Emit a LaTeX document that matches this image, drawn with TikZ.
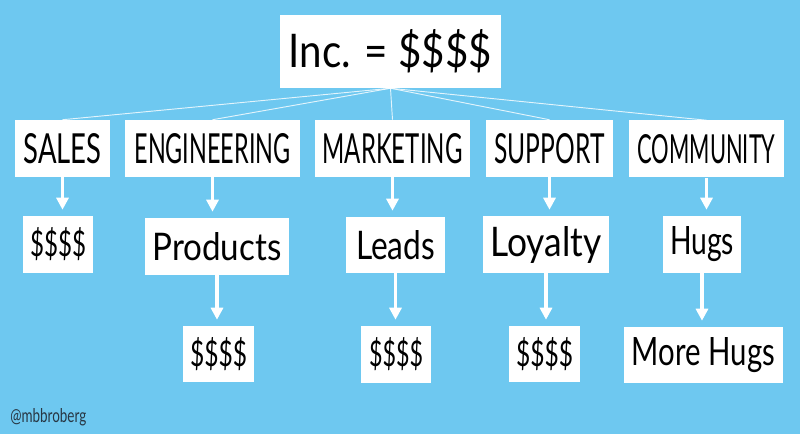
\documentclass[tikz,border=0pt]{standalone}
\usepackage{fontspec}
\setmainfont{Lato}
\usepackage{graphicx}
\usetikzlibrary{arrows.meta}
\definecolor{bg}{RGB}{110,200,240}
\definecolor{handle}{RGB}{40,55,68}
\newdimen\pxu \pxu=0.75pt
\newcommand\fitt[3]{\resizebox{#1\pxu}{#2\pxu}{#3}}
\begin{document}
\begin{tikzpicture}[x=0.75pt,y=-0.75pt,
  bx/.style 2 args={fill=white, draw=none, inner sep=0pt, minimum width=#1*0.75pt, minimum height=#2*0.75pt},
  fan/.style={draw=white, line width=0.7pt, opacity=0.8},
  arr/.style={draw=white, line width=2.4pt, shorten >=4.5pt, -{Triangle[width=9pt,length=9pt]}}
]
\fill[bg] (0,0) rectangle (800,434);
\useasboundingbox (0,0) rectangle (800,434);

\node[bx={221}{73}] (inc) at (390.5,51.5) {\fitt{203}{38}{Inc. = \$\$\$\$}};

\node[bx={95}{57}] (sales) at (62.5,148.5) {\fitt{78}{30}{SALES}};
\node[bx={175}{57}] (eng) at (212.5,148.5) {\fitt{156}{30}{ENGINEERING}};
\node[bx={155}{57}] (mkt) at (392.5,148.5) {\fitt{140}{30}{MARKETING}};
\node[bx={127}{57}] (sup) at (549.5,148.5) {\fitt{110}{30}{SUPPORT}};
\node[bx={155}{57}] (com) at (706.5,149) {\fitt{138}{29}{COMMUNITY}};

\node[bx={70}{57}] (salesA) at (58,244.5) {\fitt{56}{29}{\$\$\$\$}};
\node[bx={144}{57}] (engA) at (217,246.5) {\fitt{129}{28}{Products}};
\node[bx={99}{56}] (mktA) at (395.5,245) {\fitt{79}{29}{Leads}};
\node[bx={126}{57}] (supA) at (546,244.5) {\fitt{111}{30}{Loyalty}};
\node[bx={78}{57}] (comA) at (702,244.5) {\fitt{64}{28}{Hugs}};

\node[bx={71}{56}] (engB) at (218.5,354) {\fitt{57}{29}{\$\$\$\$}};
\node[bx={70}{57}] (mktB) at (396,354.5) {\fitt{54}{29}{\$\$\$\$}};
\node[bx={71}{56}] (supB) at (544.5,354) {\fitt{57}{29}{\$\$\$\$}};
\node[bx={159}{56}] (comB) at (703.5,355) {\fitt{143}{28}{More Hugs}};

\node[anchor=base west, inner sep=0pt, text=handle] (handle) at (10,423) {\fitt{76}{14}{@mbbroberg}};

\foreach \n in {sales,eng,mkt,sup,com}
  \draw[fan] (inc.south) -- (\n.north);

\draw[arr] (sales.south) -- (sales.south |- salesA.north);
\draw[arr] (eng.south) -- (eng.south |- engA.north);
\draw[arr] (mkt.south) -- (mkt.south |- mktA.north);
\draw[arr] (sup.south) -- (sup.south |- supA.north);
\draw[arr] (com.south) -- (com.south |- comA.north);

\draw[arr] (engA.south) -- (engA.south |- engB.north);
\draw[arr] (mktA.south) -- (mktA.south |- mktB.north);
\draw[arr] (supA.south) -- (supA.south |- supB.north);
\draw[arr] (comA.south) -- (comA.south |- comB.north);
\end{tikzpicture}
\end{document}
